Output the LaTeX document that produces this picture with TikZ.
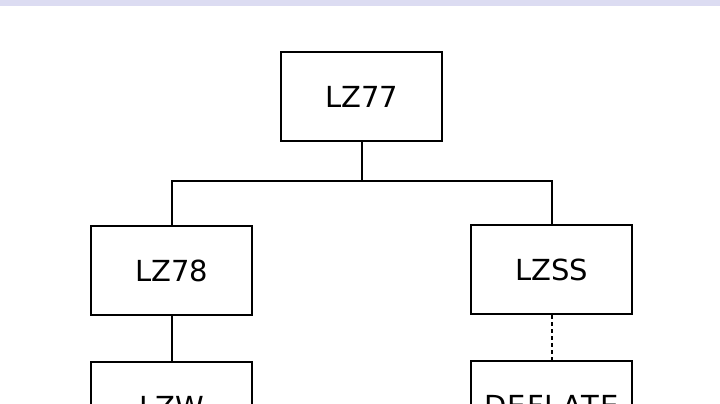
\documentclass[tikz,border=0pt]{standalone}
\usepackage{fontspec}
\setmainfont{DejaVu Sans}
\begin{document}
\begin{tikzpicture}[x=1pt,y=-1pt,
  box/.style={draw,line width=2pt,minimum width=161pt,minimum height=89pt,inner sep=0pt,font=\fontsize{29}{34}\selectfont},
  conn/.style={line width=2pt}]
\useasboundingbox (0,0) rectangle (720,404);
\clip (0,0) rectangle (720,404);
\fill[fill={rgb,255:red,220;green,220;blue,242}] (0,0) rectangle (720,6);
\node[box] (lz77) at (361.5,96.5) {LZ77};
\node[box] (lz78) at (171.5,270.5) {LZ78};
\node[box] (lzss) at (551.5,269.5) {LZSS};
\node[box,anchor=north] (lzw) at (171.5,361) {LZW};
\node[box,anchor=north] (deflate) at (551.5,360) {\addfontfeature{LetterSpace=4}DEFLATE};
\coordinate (j) at (361.5,181);
\draw[conn] (lz77.south) -- (j);
\draw[conn] (lz78.north) |- (j) -| (lzss.north);
\draw[conn] (lz78.south) -- (lzw.north);
\draw[conn,dash pattern=on 4pt off 3pt] (lzss.south) -- (deflate.north);
\end{tikzpicture}
\end{document}
